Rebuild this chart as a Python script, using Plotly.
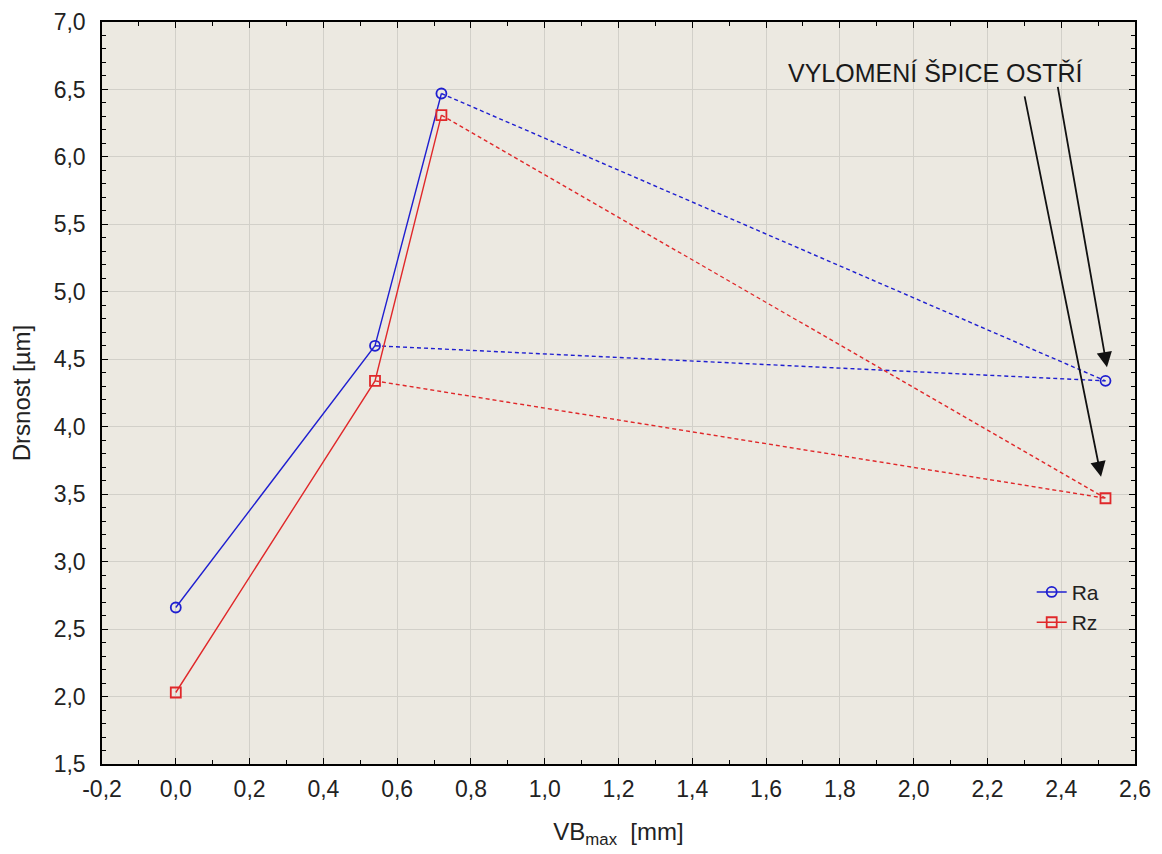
import plotly.graph_objects as go

# VB_max [mm] and roughness values
vb = [0.0, 0.54, 0.72, 2.52]
ra = [2.66, 4.60, 6.47, 4.34]
rz = [2.03, 4.34, 6.31, 3.47]

x_ticks = [-0.2, 0.0, 0.2, 0.4, 0.6, 0.8, 1.0, 1.2, 1.4, 1.6, 1.8, 2.0, 2.2, 2.4, 2.6]
y_ticks = [1.5, 2.0, 2.5, 3.0, 3.5, 4.0, 4.5, 5.0, 5.5, 6.0, 6.5, 7.0]

note = "VYLOMENÍ ŠPICE OSTŘÍ"
# arrow tails (text side) and heads (points near x=2.52)
arrow_tail_x = [2.30, 2.39]
arrow_tail_y = [6.46, 6.53]
arrow_head_x = [2.508, 2.524]
arrow_head_y = [3.63, 4.44]

FONT = "Arial, Liberation Sans, sans-serif"


def comma(v):
    # decimal comma and plain hyphen, as in the original
    return f"{v:.1f}".replace(".", ",")


fig = go.Figure()

series = [
    ("Ra", ra, "#1f1fd0", "circle-open"),
    ("Rz", rz, "#e0282a", "square-open"),
]

for name, vals, col, sym in series:
    # solid part: 0 -> 0.54 -> 0.72
    fig.add_trace(go.Scatter(
        x=vb[:3], y=vals[:3], name=name, mode="lines+markers",
        line=dict(color=col, width=1.4),
        marker=dict(symbol=sym, size=10, color=col, line=dict(width=1.8, color=col)),
    ))
    # dashed connections to the broken-tip point
    for i in (2, 1):
        fig.add_trace(go.Scatter(
            x=[vb[i], vb[3]], y=[vals[i], vals[3]], mode="lines",
            line=dict(color=col, width=1.4, dash="4px,3px"),
            showlegend=False, hoverinfo="skip",
        ))
    fig.add_trace(go.Scatter(
        x=[vb[3]], y=[vals[3]], mode="markers", showlegend=False,
        marker=dict(symbol=sym, size=10, color=col, line=dict(width=1.8, color=col)),
    ))

fig.add_annotation(
    x=2.058, y=6.62, text=note, showarrow=False,
    font=dict(family=FONT, size=25, color="#1a1a1a"),
)
for tx, ty, hx, hy in zip(arrow_tail_x, arrow_tail_y, arrow_head_x, arrow_head_y):
    fig.add_annotation(
        x=hx, y=hy, ax=tx, ay=ty, xref="x", yref="y", axref="x", ayref="y",
        text="", showarrow=True, arrowhead=2, arrowsize=1.7, arrowwidth=1.8,
        arrowcolor="#111111",
    )

axis_common = dict(
    showline=True, linecolor="black", linewidth=1.5, mirror="allticks",
    ticks="inside", ticklen=6, tickcolor="black",
    showgrid=True, gridcolor="#d2d0c9", gridwidth=1, zeroline=False,
    tickfont=dict(family=FONT, size=23, color="#222222"),
    automargin=False,
)

fig.update_xaxes(
    range=[-0.2, 2.6], tickvals=x_ticks, ticktext=[comma(v) for v in x_ticks],
    ticklabelstandoff=4,
    minor=dict(dtick=0.1, ticks="inside", ticklen=4, tickcolor="black", showgrid=False),
    title=dict(text="VB<sub>max</sub>  [mm]", font=dict(family=FONT, size=24, color="#222222"), standoff=22),
    **axis_common,
)
fig.update_yaxes(
    range=[1.5, 7.0], tickvals=y_ticks, ticktext=[comma(v) for v in y_ticks],
    ticklabelstandoff=10,
    minor=dict(dtick=0.1, ticks="inside", ticklen=4, tickcolor="black", showgrid=False),
    title=dict(text="Drsnost [µm]", font=dict(family=FONT, size=24, color="#222222"), standoff=16),
    **axis_common,
)

# the page body adds an 8px offset, so the figure is sized 8px smaller
fig.update_layout(
    width=1154, height=846,
    margin=dict(l=94, r=27, t=14, b=90),
    plot_bgcolor="#ece9e1", paper_bgcolor="white",
    font=dict(family=FONT, color="#222222"),
    legend=dict(
        x=0.9, y=0.259, xanchor="left", yanchor="top",
        bgcolor="rgba(0,0,0,0)", font=dict(family=FONT, size=21, color="#222222"),
        tracegroupgap=0,
    ),
)

fig.write_html("out.html")
